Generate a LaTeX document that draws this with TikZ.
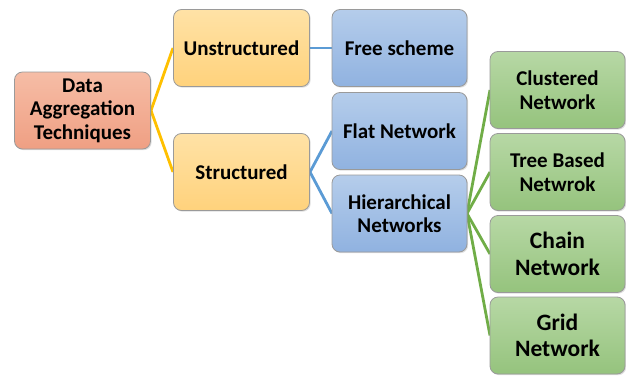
\documentclass[tikz,border=0pt]{standalone}
\usepackage{fontspec}
\setmainfont{Carlito}
\usetikzlibrary{shadows}
\definecolor{rootT}{HTML}{F6BDA6}
\definecolor{rootB}{HTML}{EF9F83}
\definecolor{yelT}{HTML}{FFE2A6}
\definecolor{yelB}{HTML}{FFD27C}
\definecolor{bluT}{HTML}{B5CDEB}
\definecolor{bluB}{HTML}{90B2E0}
\definecolor{grnT}{HTML}{B7D8A5}
\definecolor{grnB}{HTML}{95C37D}
\definecolor{yelL}{HTML}{FFC000}
\definecolor{bluL}{HTML}{5B9BD5}
\definecolor{grnL}{HTML}{70AD47}
\definecolor{edge}{HTML}{9A9A9A}
\tikzset{
  box/.style={draw=edge, line width=0.8pt, rounded corners=8pt, align=center,
    minimum width=136pt, minimum height=77pt, inner sep=2pt,
    font=\fontsize{21}{23.5}\selectfont\bfseries,
    drop shadow={shadow xshift=1.2pt, shadow yshift=-1.2pt, opacity=0.25}},
  rootbox/.style={box, top color=rootT, bottom color=rootB},
  yelbox/.style={box, top color=yelT, bottom color=yelB},
  blubox/.style={box, top color=bluT, bottom color=bluB, minimum width=135pt},
  grnbox/.style={box, top color=grnT, bottom color=grnB, minimum width=135pt},
  bigtext/.style={font=\fontsize{23.5}{26.5}\selectfont\bfseries},
  yline/.style={draw=yelL, line width=2.8pt},
  bline/.style={draw=bluL, line width=2.8pt},
  gline/.style={draw=grnL, line width=2.8pt},
}
\begin{document}
\begin{tikzpicture}[x=1pt,y=-1pt]
\useasboundingbox (0,0) rectangle (626,375);
% connectors first
\coordinate (r) at (151,110.5);
\coordinate (s) at (310,172);
\coordinate (h) at (467,213.5);
\draw[yline] (r) -- (173,48);
\draw[yline] (r) -- (173,172);
\draw[bline] (310,48) -- (332,48);
\draw[bline] (s) -- (332,131);
\draw[bline] (s) -- (332,213.5);
\draw[gline] (h) -- (490,90);
\draw[gline] (h) -- (490,172);
\draw[gline] (h) -- (490,254);
\draw[gline] (h) -- (490,335.5);
% nodes
\node[rootbox] (root) at (82.5,110.5) {Data\\Aggregation\\Techniques};
\node[yelbox] (uns) at (241.5,48) {Unstructured};
\node[yelbox] (str) at (241.5,172) {Structured};
\node[blubox] (free) at (399.5,48) {Free scheme};
\node[blubox] (flat) at (399.5,131) {Flat Network};
\node[blubox] (hier) at (399.5,213.5) {Hierarchical\\Networks};
\node[grnbox] (clu) at (557.5,90) {Clustered\\Network};
\node[grnbox] (tree) at (557.5,172) {Tree Based\\Netwrok};
\node[grnbox, bigtext] (chain) at (557.5,254) {Chain\\Network};
\node[grnbox, bigtext] (grid) at (557.5,335.5) {Grid\\Network};
\end{tikzpicture}
\end{document}
